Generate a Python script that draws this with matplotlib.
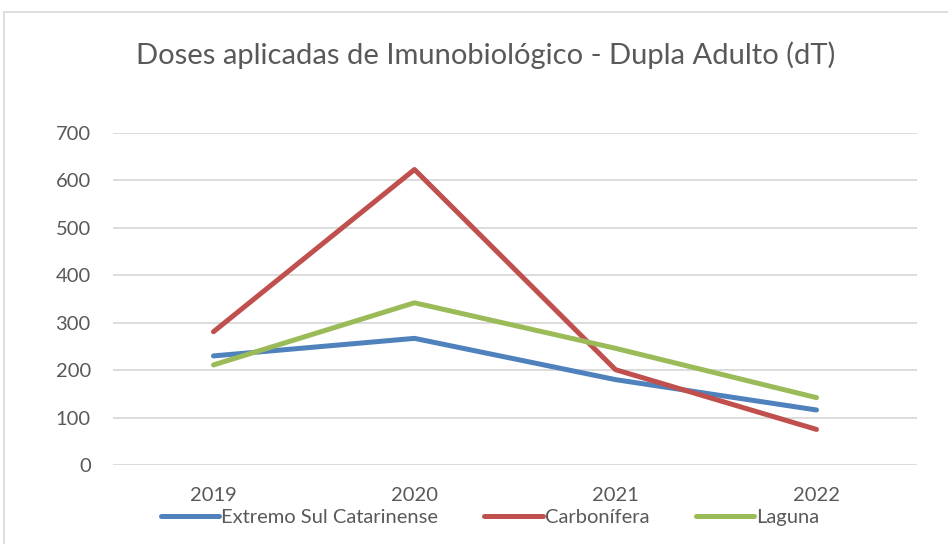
import matplotlib.pyplot as plt
from matplotlib.patches import Rectangle

years = ['2019', '2020', '2021', '2022']
extremo_sul = [230, 267, 180, 116]
carbonifera = [281, 623, 201, 75]
laguna = [211, 342, 246, 142]

series = [('Extremo Sul Catarinense', extremo_sul, '#4f81bd'),
          ('Carbonífera', carbonifera, '#c0504d'),
          ('Laguna', laguna, '#9bbb59')]

plt.rcParams['font.family'] = ['Lato', 'DejaVu Sans']
txt = '#595959'

fig = plt.figure(figsize=(9.48, 5.44), dpi=100)
ax = fig.add_axes([113/948, 1-465/544, (917-113)/948, (465-133)/544])

# chart border
fig.patches.append(Rectangle((4/948, -0.1), 1.1, 1.1-12/544, transform=fig.transFigure,
                             fill=False, edgecolor='#d9d9d9', linewidth=1.2))

x = range(len(years))
for name, vals, col in series:
    ax.plot(x, vals, color=col, linewidth=3.6, solid_capstyle='round',
            solid_joinstyle='round', label=name)

ax.set_xlim(-0.5, len(years)-0.5)
ax.set_ylim(0, 700)
ax.set_yticks(range(0, 701, 100))
ax.set_xticks(list(x))
ax.set_xticklabels(years)
ax.grid(axis='y', color='#d9d9d9', linewidth=1.3)
ax.set_axisbelow(True)
for s in ax.spines.values():
    s.set_visible(False)
ax.tick_params(axis='both', length=0, labelsize=14.5, colors=txt)
ax.tick_params(axis='y', pad=16)
ax.tick_params(axis='x', pad=16)

fig.text(486/948, 1-55/544, 'Doses aplicadas de Imunobiológico - Dupla Adulto (dT)',
         ha='center', va='center', fontsize=21, color=txt)

leg = fig.legend(loc='center', bbox_to_anchor=(490/948, 1-517/544), ncol=3, frameon=False,
                 fontsize=14.5, handlelength=2.9, handletextpad=0.1, columnspacing=2.3,
                 labelcolor=txt, borderpad=0)

fig.savefig('out.png', dpi=100)
